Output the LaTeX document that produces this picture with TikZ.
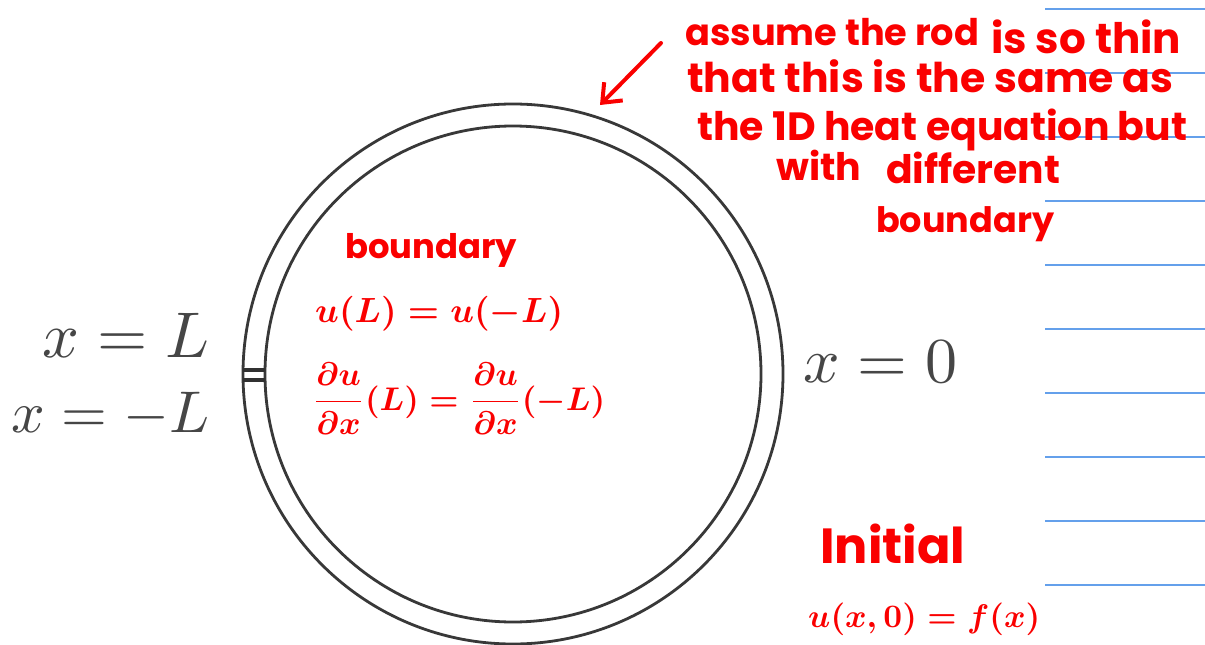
\documentclass[tikz,border=0pt]{standalone}
\usepackage{fontspec}
\usepackage{graphicx}
\newfontfamily\hand{Poppins}
\usetikzlibrary{arrows.meta}
\definecolor{ink}{RGB}{250,0,0}
\definecolor{rulecol}{RGB}{100,160,235}
\definecolor{lblcol}{RGB}{70,70,70}
\begin{document}
\begin{tikzpicture}[x=1pt,y=-1pt,
  ring/.style={draw=lblcol!80!black, line width=2.8pt},
  tickmark/.style={draw=lblcol!70!black, line width=4pt},
  glab/.style={text=lblcol, inner sep=0pt},
  note/.style={text=ink, inner sep=0pt, font=\hand\bfseries},
  paper/.style={draw=rulecol, line width=1.4pt},
  pointer/.style={draw=ink, line width=4pt, line cap=round,
    -{Straight Barb[length=16pt,width=26pt]}}]
\useasboundingbox (0,0) rectangle (1205,645);
\fill[white] (0,0) rectangle (1205,645);

% notebook rules
\foreach \yy in {9,73,...,585} \draw[paper] (1045,\yy) -- (1205,\yy);

% ring (thin rod bent into a circle)
\coordinate (c) at (513,374);
\draw[ring] (c) circle[radius=270pt];
\draw[ring] (c) circle[radius=248pt];

% junction marks
\coordinate (t1a) at (243,370); \coordinate (t1b) at (265,370);
\coordinate (t2a) at (243,380); \coordinate (t2b) at (265,380);
\draw[tickmark] (t1a) -- (t1b);
\draw[tickmark] (t2a) -- (t2b);

% printed labels
\node[glab, anchor=base east] (xL) at (210,357) {\resizebox{167pt}{!}{$x = L$}};
\node[glab, anchor=base east] (xmL) at (210,432) {\resizebox{198pt}{!}{$x = -L$}};
\node[glab, anchor=base west] (x0) at (803,382) {\resizebox{154pt}{!}{$x = 0$}};

% handwritten notes
\node[note, anchor=base west] (n1) at (685,45) {\resizebox{294pt}{!}{assume the rod}};
\node[note, anchor=base west] (n2) at (991,53) {\resizebox{190pt}{!}{is so thin}};
\node[note, anchor=base west] (n3) at (687,92) {\resizebox{486pt}{!}{that this is the same as}};
\node[note, anchor=base west] (n4) at (697,140) {\resizebox{490pt}{!}{the 1D heat equation but}};
\node[note, anchor=base west] (n5) at (776,180) {\resizebox{85pt}{!}{with}};
\node[note, anchor=base west] (n6) at (886,183) {\resizebox{174pt}{!}{different}};
\node[note, anchor=base west] (n7) at (876,232) {\resizebox{178pt}{!}{boundary}};

\coordinate (a0) at (661,43);
\coordinate (a1) at (600,105);
\draw[pointer] (a0) -- (a1);

\node[note, anchor=base west] (bd) at (345,258) {\resizebox{172pt}{!}{boundary}};
\node[note, anchor=base west] (bc1) at (315,322) {\resizebox{248pt}{!}{\boldmath$u(L) = u(-L)$}};
\node[note, anchor=base west] (bc2) at (312,410) {\resizebox{293pt}{!}{\boldmath$\displaystyle\frac{\partial u}{\partial x}(L) = \frac{\partial u}{\partial x}(-L)$}};

\node[note, anchor=base west] (ini) at (820,563) {\resizebox{145pt}{!}{Initial}};
\node[note, anchor=base west] (ic) at (808,627) {\resizebox{232pt}{!}{\boldmath$u(x,0) = f(x)$}};
\end{tikzpicture}
\end{document}
